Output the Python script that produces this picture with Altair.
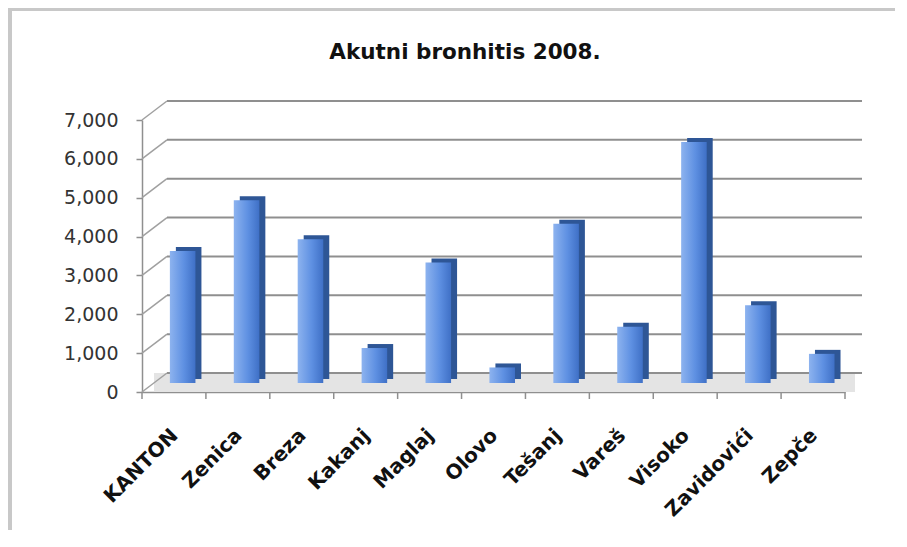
import altair as alt
import pandas as pd

categories = ["KANTON", "Zenica", "Breza", "Kakanj", "Maglaj", "Olovo",
              "Tešanj", "Vareš", "Visoko", "Zavidovići", "Zepče"]
values = [3400, 4700, 3700, 900, 3100, 400, 4100, 1450, 6200, 2000, 750]
y_ticks = [0, 1000, 2000, 3000, 4000, 5000, 6000, 7000]
title_text = "Akutni bronhitis 2008."

W, H = 703, 272
DEPTH_X, DEPTH_Y = 25, 19   # back-wall offset of the pseudo-3D chart

df = pd.DataFrame({"cat": categories, "val": values})
grid_df = pd.DataFrame({"v": y_ticks})

xscale = alt.Scale(domain=categories, paddingInner=0.6, paddingOuter=0.3)
yscale = alt.Scale(domain=[0, 7000], nice=False)

base = alt.Chart(df)
one = alt.Data(values=[{"a": 1}])

# chart-area frame: one stroked rect whose right/bottom edges fall outside the canvas
frame = alt.Chart(one).mark_rect(fill=None, fillOpacity=0, stroke="#c8c8c8", strokeWidth=4).encode(
    x=alt.value(-132), x2=alt.value(W + 300), y=alt.value(-111), y2=alt.value(H + 400))

# floor
floor = alt.Chart(one).mark_rect(color="#e4e4e4").encode(
    x=alt.value(12), x2=alt.value(W + 10), y=alt.value(H - DEPTH_Y), y2=alt.value(H))

yaxis = alt.Axis(
    values=y_ticks, format=",d", title=None, grid=False, labelOverlap=False,
    labelFont="DejaVu Sans", labelFontSize=19, labelColor="#333333",
    labelPadding=18, tickSize=6, tickColor="#8f8f8f", domainColor="#8f8f8f",
    domainWidth=1.5, tickWidth=1.5)

# back gridlines
grid = alt.Chart(grid_df).mark_rule(
    color="#8f8f8f", strokeWidth=2, yOffset=-DEPTH_Y, y2Offset=-DEPTH_Y
).encode(
    x=alt.value(DEPTH_X), x2=alt.value(W + 17),
    y=alt.Y("v:Q", scale=yscale, axis=yaxis),
)
# diagonal connectors from the axis ticks to the back wall
conn = alt.Chart(grid_df).mark_rule(color="#a0a0a0", strokeWidth=1.5, y2Offset=-DEPTH_Y).encode(
    x=alt.value(0), x2=alt.value(DEPTH_X),
    y=alt.Y("v:Q", scale=yscale, axis=yaxis), y2=alt.Y2("v:Q"),
)

grad = alt.Gradient(
    gradient="linear",
    stops=[alt.GradientStop(color="#8db3ef", offset=0),
           alt.GradientStop(color="#5e90e2", offset=0.55),
           alt.GradientStop(color="#3f70c6", offset=1)],
    x1=0, x2=1, y1=0, y2=0,
)

xaxis = alt.Axis(
    title=None, labelAngle=-45, labelAlign="right", labelBaseline="middle",
    labelFont="DejaVu Sans", labelFontWeight="bold", labelFontSize=20,
    labelColor="#111111", labelPadding=40, labelOffset=1, ticks=False, tickSize=0,
    labelOverlap=False, domainColor="#8f8f8f", domainWidth=1.5)

side = base.mark_bar(color="#2e5696", xOffset=8.7 + 6, yOffset=-9 - 4, y2Offset=-9 - 4).encode(
    x=alt.X("cat:N", scale=xscale, sort=categories, axis=xaxis),
    y=alt.Y("val:Q", scale=yscale, axis=yaxis),
)
bars = base.mark_bar(color=grad, xOffset=8.7, yOffset=-9, y2Offset=-9).encode(
    x=alt.X("cat:N", scale=xscale, sort=categories, axis=xaxis),
    y=alt.Y("val:Q", scale=yscale, axis=yaxis),
)

# x ticks at category boundaries
xticks = base.mark_rule(color="#8f8f8f", strokeWidth=1.5, xOffset=-W / 22).encode(
    x=alt.X("cat:N", scale=xscale, sort=categories, axis=xaxis),
    y=alt.value(H), y2=alt.value(H + 7),
)
xtick_end = alt.Chart(one).mark_rule(color="#8f8f8f", strokeWidth=1.5).encode(
    x=alt.value(W), y=alt.value(H), y2=alt.value(H + 7),
)

title = alt.Chart(alt.Data(values=[{"t": title_text}])).mark_text(
    font="DejaVu Sans", fontWeight="bold", fontSize=21.5, color="#111111",
    align="center", baseline="middle",
).encode(x=alt.value(323), y=alt.value(-67), text="t:N")

chart = alt.layer(
    frame, floor, grid, conn, side, bars, xticks, xtick_end, title
).properties(
    width=W, height=H,
    autosize=alt.AutoSizeParams(type="none"),
    padding={"left": 134, "top": 112, "right": 50, "bottom": 138},
).configure_view(stroke=None)

chart.save("out.html", embed_options={"renderer": "svg", "actions": False})
